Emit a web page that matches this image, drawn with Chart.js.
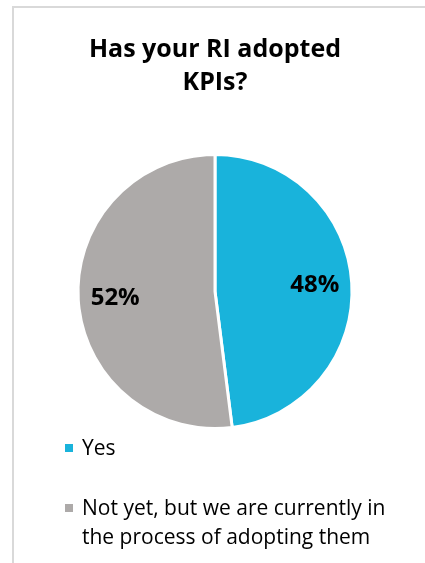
<!DOCTYPE html>
<html>
<head>
<meta charset="utf-8">
<script src="https://cdn.jsdelivr.net/npm/chart.js@4.4.0/dist/chart.umd.min.js"></script>
<style>
  html, body { margin: 0; padding: 0; background: #fff; }
  body { width: 425px; height: 563px; position: relative; overflow: hidden; font-family: "Open Sans", Lato, sans-serif; }
  #frame { position: absolute; left: 12px; top: 6px; right: 0; bottom: 0; border-top: 2px solid #d9d9d9; border-left: 2px solid #d9d9d9; }
  #chart-box { position: absolute; left: 0; top: 0; width: 425px; height: 440px; }
  #legend { position: absolute; left: 65px; top: 433px; margin: 0; padding: 0; list-style: none; font-size: 21px; color: #000; }
  #legend li { position: relative; padding-left: 17px; line-height: 29px; }
  #legend li + li { margin-top: 31px; }
  #legend .box { position: absolute; left: 0; top: 11px; width: 8px; height: 8px; }
</style>
</head>
<body>
<div id="frame"></div>
<div id="chart-box"><canvas id="pie-chart"></canvas></div>
<ul id="legend"></ul>
<script>
const categories = ['Yes', 'Not yet, but we are currently in the process of adopting them'];
const legendLines = [['Yes'], ['Not yet, but we are currently in', 'the process of adopting them']];
const values = [48, 52];
const colors = ['#19b3db', '#adaaa9'];
const titleLines = ['Has your RI adopted', 'KPIs?'];

// percentage labels inside the slices
const sliceLabels = {
    id: 'sliceLabels',
    afterDatasetsDraw(chart) {
        const ctx = chart.ctx;
        const meta = chart.getDatasetMeta(0);
        const total = values.reduce((a, b) => a + b, 0);
        ctx.save();
        ctx.font = 'bold 24px "Open Sans", Lato, sans-serif';
        ctx.fillStyle = '#000';
        ctx.textAlign = 'center';
        ctx.textBaseline = 'middle';
        meta.data.forEach((arc, i) => {
            const p = arc.getProps(['x', 'y', 'startAngle', 'endAngle', 'outerRadius']);
            const mid = (p.startAngle + p.endAngle) / 2;
            const r = p.outerRadius * 0.73;
            const pct = Math.round(values[i] / total * 100) + '%';
            ctx.fillText(pct, p.x + Math.cos(mid) * r, p.y + Math.sin(mid) * r);
        });
        ctx.restore();
    }
};

const canvas = document.getElementById('pie-chart');

new Chart(canvas, {
    type: 'pie',
    data: {
        labels: categories,
        datasets: [{
            data: values,
            backgroundColor: colors,
            borderColor: '#ffffff',
            borderWidth: 3
        }]
    },
    options: {
        responsive: true,
        maintainAspectRatio: false,
        animation: false,
        layout: { padding: { left: 5, right: 0, top: 0, bottom: 10 } },
        plugins: {
            legend: { display: false },
            tooltip: { enabled: false },
            title: {
                display: true,
                text: titleLines,
                color: '#000',
                font: { family: '"Open Sans", Lato, sans-serif', size: 25, weight: 'bold', lineHeight: 1.3 },
                padding: { top: 34, bottom: 54 }
            }
        }
    },
    plugins: [sliceLabels]
});

const legendEl = document.getElementById('legend');
legendLines.forEach((lines, i) => {
    const li = document.createElement('li');
    const box = document.createElement('span');
    box.className = 'box';
    box.style.background = colors[i];
    li.appendChild(box);
    lines.forEach((line, j) => {
        if (j > 0) li.appendChild(document.createElement('br'));
        li.appendChild(document.createTextNode(line));
    });
    legendEl.appendChild(li);
});
</script>
</body>
</html>
